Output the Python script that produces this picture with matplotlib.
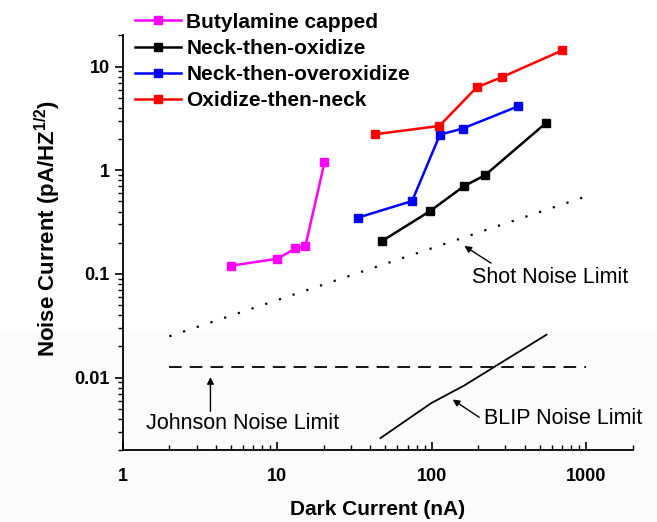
import numpy as np
import matplotlib
matplotlib.use("Agg")
import matplotlib.pyplot as plt
from matplotlib.patches import Rectangle

plt.rcParams['font.family'] = ['Liberation Sans', 'DejaVu Sans']
plt.rcParams['mathtext.fontset'] = 'custom'
plt.rcParams['mathtext.bf'] = 'Liberation Sans:bold'
plt.rcParams['mathtext.default'] = 'bf'

# measured noise current vs dark current, one series per treatment
buty_x = [5.0, 10.0, 13.1, 15.2, 20.2]
buty_y = [0.12, 0.14, 0.176, 0.186, 1.19]

nto_x = [47.5, 97.5, 162, 221, 553]
nto_y = [0.207, 0.404, 0.705, 0.895, 2.89]

ntoo_x = [33.2, 74.6, 113, 158.5, 363]
ntoo_y = [0.349, 0.505, 2.21, 2.53, 4.15]

otn_x = [43.2, 112, 195, 287, 702]
otn_y = [2.23, 2.68, 6.3, 7.97, 14.4]

# theoretical limits
shot_x = [2, 1000]
shot_y = [0.025, 0.56]
johnson_x = [2, 1000]
johnson_y = [0.0127, 0.0127]
blip_x = [46.5, 99, 162, 553]
blip_y = [0.0026, 0.00565, 0.00837, 0.0259]

fig = plt.figure(figsize=(6.57, 5.22), dpi=100)
# faint grey band behind the lower part of the figure
fig.patches.append(Rectangle((0, 0), 1, 0.368, transform=fig.transFigure,
                             facecolor='#fbfbfb', edgecolor='none', zorder=-10))
ax = fig.add_axes([0.187, 0.138, 0.776, 0.794])
ax.patch.set_alpha(0)

kw = dict(marker='s', markersize=6, lw=1.8)
ax.plot(buty_x, buty_y, color='#ff00ff', label='Butylamine capped', **kw)
ax.plot(nto_x, nto_y, color='black', label='Neck-then-oxidize', **kw)
ax.plot(ntoo_x, ntoo_y, color='#0000ff', label='Neck-then-overoxidize', **kw)
ax.plot(otn_x, otn_y, color='#ff0000', label='Oxidize-then-neck', **kw)

ax.plot(shot_x, shot_y, color='black', lw=1.6, linestyle=(0, (1, 5.5)))
ax.plot(johnson_x, johnson_y, color='black', lw=1.3, linestyle=(0, (7, 4.5)))
ax.plot(blip_x, blip_y, color='black', lw=1.3)

ax.set_xscale('log')
ax.set_yscale('log')
ax.set_xlim(1, 2000)
ax.set_ylim(0.002, 20)

ax.spines['top'].set_visible(False)
ax.spines['right'].set_visible(False)
ax.spines['left'].set_linewidth(1.3)
ax.spines['bottom'].set_linewidth(1.3)

ax.set_xticks([1, 10, 100, 1000])
ax.set_xticklabels(['1', '10', '100', '1000'])
ax.set_yticks([0.01, 0.1, 1, 10])
ax.set_yticklabels(['0.01', '0.1', '1', '10'])
ax.tick_params(axis='x', which='major', direction='in', length=6, width=1.2, labelsize=13, pad=13)
ax.tick_params(axis='x', which='minor', direction='in', length=3.5, width=1)
ax.tick_params(axis='y', which='major', direction='out', length=6, width=1.2, labelsize=13)
ax.tick_params(axis='y', which='minor', direction='out', length=3.5, width=1)
for lab in ax.get_xticklabels() + ax.get_yticklabels():
    lab.set_fontweight('bold')

ax.set_xlabel('Dark Current (nA)', fontsize=15, fontweight='bold', labelpad=11)
ax.set_ylabel('Noise Current (pA/HZ$^{1/2}$)', fontsize=16, fontweight='bold')
ax.yaxis.set_label_coords(-0.118, 0.535)

# labels and arrows for the limit lines
arrow = dict(arrowstyle='-|>', color='black', lw=1, mutation_scale=10, shrinkA=0, shrinkB=0)
ax.annotate('', xy=(162.5, 0.186), xytext=(242, 0.127), arrowprops=arrow)
ax.text(183, 0.093, 'Shot Noise Limit', fontsize=15.5, ha='left', va='center')
ax.annotate('', xy=(3.69, 0.0101), xytext=(3.69, 0.00472), arrowprops=arrow)
ax.text(5.94, 0.00357, 'Johnson Noise Limit', fontsize=15.5, ha='center', va='center')
ax.annotate('', xy=(136.5, 0.00613), xytext=(203, 0.00413), arrowprops=arrow)
ax.text(219, 0.00399, 'BLIP Noise Limit', fontsize=15.5, ha='left', va='center')

leg = ax.legend(loc='upper left', bbox_to_anchor=(0.193, 0.992), bbox_transform=fig.transFigure,
                frameon=False, handlelength=2.2, handletextpad=0.25, labelspacing=0.35,
                prop={'size': 15, 'weight': 'bold'}, borderaxespad=0.2, borderpad=0.2)

fig.savefig('out.png', dpi=100)
